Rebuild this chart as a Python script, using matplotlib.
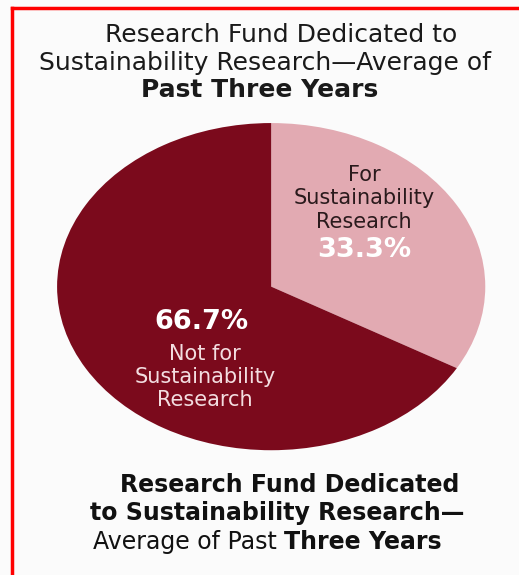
import matplotlib.pyplot as plt
from matplotlib.lines import Line2D

# data
labels = ["For\nSustainability\nResearch", "Not for\nSustainability\nResearch"]
shares = [33.3, 66.7]
pct_text = ["33.3%", "66.7%"]
colors = ["#e2aab2", "#7b0a1c"]

plt.rcParams["font.family"] = ["DejaVu Sans"]

fig = plt.figure(figsize=(5.19, 5.75), dpi=100)
fig.patch.set_facecolor("#fbfbfb")

# pie stretched into an ellipse
ax = fig.add_axes([0.110, 0.217, 0.825, 0.569])
ax.pie(shares, colors=colors, startangle=90, counterclock=False,
       wedgeprops=dict(linewidth=0))
ax.set_aspect("auto")
ax.set_xlim(-1, 1)
ax.set_ylim(-1, 1)
ax.axis("off")

# slice labels
ax.text(0.435, 0.54, labels[0], ha="center", va="center", fontsize=15,
        color="#2a1a1c", linespacing=1.2)
ax.text(0.435, 0.227, pct_text[0], ha="center", va="center", fontsize=19.5,
        fontweight="bold", color="white")
ax.text(-0.327, -0.215, pct_text[1], ha="center", va="center", fontsize=19.5,
        fontweight="bold", color="white")
ax.text(-0.308, -0.552, labels[1], ha="center", va="center", fontsize=15,
        color="#f3dde0", linespacing=1.2)

# top title
fig.text(0.542, 0.940, "Research Fund Dedicated to", ha="center", va="center",
         fontsize=18, color="#1a1a1a")
fig.text(0.511, 0.891, "Sustainability Research\u2014Average of", ha="center",
         va="center", fontsize=18, color="#1a1a1a")
fig.text(0.500, 0.843, "Past Three Years", ha="center", va="center",
         fontsize=18, fontweight="bold", color="#1a1a1a")

# bottom caption
fig.text(0.558, 0.156, "Research Fund Dedicated", ha="center", va="center",
         fontsize=17, fontweight="bold", color="#111111")
fig.text(0.534, 0.107, "to Sustainability Research\u2014", ha="center",
         va="center", fontsize=17, fontweight="bold", color="#111111")
t1 = fig.text(0.179, 0.057, "Average of Past ", ha="left", va="center",
              fontsize=17, color="#111111")
fig.canvas.draw()
bb = t1.get_window_extent()
x2 = fig.transFigure.inverted().transform((bb.x1, bb.y0))[0]
fig.text(x2, 0.057, "Three Years", ha="left", va="center", fontsize=17,
         fontweight="bold", color="#111111")

# red frame on top and left
fig.add_artist(Line2D([0.023, 1.0], [0.9865, 0.9865], color="#ff0000",
                      linewidth=2.5, transform=fig.transFigure))
fig.add_artist(Line2D([0.023, 0.023], [0.0, 0.9865], color="#ff0000",
                      linewidth=2.5, transform=fig.transFigure))

fig.savefig("out.png", dpi=100, facecolor=fig.get_facecolor())
